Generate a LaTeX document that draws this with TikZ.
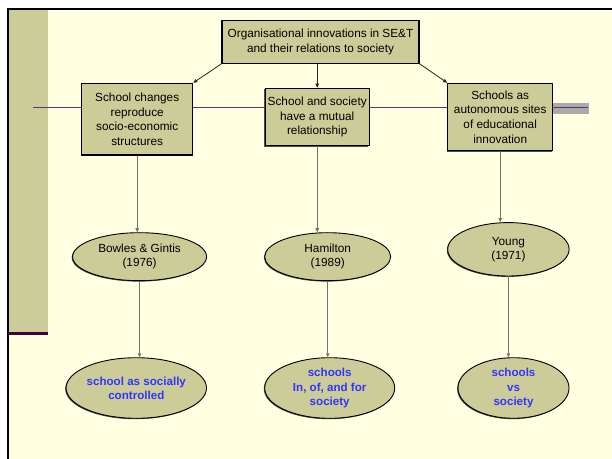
\documentclass[tikz,border=0pt]{standalone}
\usepackage{fontspec}
\setmainfont{Liberation Sans}
\usetikzlibrary{
    arrows.meta,
    shapes.geometric,
    shadows
}
\definecolor{paper}{RGB}{255,255,225}
\definecolor{boxolive}{RGB}{204,204,153}
\definecolor{plum}{RGB}{102,51,102}
\definecolor{darkplum}{RGB}{64,0,64}
\definecolor{bargray}{RGB}{170,170,170}
\definecolor{themeblue}{RGB}{51,51,255}
\tikzset{
    edge shadow/.style={
        drop shadow={shadow xshift=-0.9bp, shadow yshift=-0.9bp, fill=black!70, opacity=1}
    },
    conceptbox/.style={
        rectangle,
        draw=black,
        line width=1.1bp,
        fill=boxolive,
        text=black,
        align=center,
        inner sep=0pt,
        edge shadow,
        font=\fontsize{11.8bp}{14.6bp}\selectfont
    },
    authorell/.style={
        ellipse,
        draw=black,
        line width=0.9bp,
        fill=boxolive,
        text=black,
        align=center,
        inner sep=0pt,
        edge shadow,
        font=\fontsize{11.8bp}{14.2bp}\selectfont
    },
    themeell/.style={
        authorell,
        text=themeblue,
        font=\fontsize{11.6bp}{14.2bp}\selectfont\bfseries
    },
    link/.style={
        -{Triangle[length=4bp,width=3.5bp]},
        draw=black!55,
        line width=0.8bp
    },
    branch/.style={
        link,
        draw=black!85
    }
}

\begin{document}
\begin{tikzpicture}[x=1bp, y=-1bp]
\useasboundingbox (0,0) rectangle (612,459);
\fill[white] (0,0) rectangle (612,459);

% Slide background and frame
\fill[paper] (8,9) rectangle (612,459);
\fill[boxolive] (8,9) rectangle (48.3,332);
\fill[darkplum] (8,332) rectangle (48.3,335.3);
\draw[black, line width=2bp] (8.3,459) -- (8.3,9) -- (612,9);

% Horizontal rule
\fill[bargray] (553,103) rectangle (589,114);
\draw[plum, line width=1.5bp] (33,107.7) -- (588,107.7);

% Boxes
\node[conceptbox, minimum width=197bp, minimum height=42.5bp] (top) at (320.5,42) {Organisational innovations in SE\&T\\and their relations to society};
\node[conceptbox, minimum width=111bp, minimum height=71.7bp] (lbox) at (137.2,119.2) {School changes\\reproduce\\socio-economic\\structures};
\node[conceptbox, minimum width=104.3bp, minimum height=57.4bp] (mbox) at (317.2,117) {School and society\\have a mutual\\relationship};
\node[conceptbox, minimum width=105bp, minimum height=67.4bp] (rbox) at (500.2,117) {Schools as\\autonomous sites\\of educational\\innovation};

% Authors
\node[authorell, minimum width=134bp, minimum height=48bp] (bowles) at (139.6,256.7) {Bowles \& Gintis\\(1976)};
\node[authorell, minimum width=126bp, minimum height=48bp] (hamilton) at (327.7,256.7) {Hamilton\\(1989)};
\node[authorell, minimum width=121.4bp, minimum height=53.4bp] (young) at (508.4,249.3) {Young\\(1971)};

% Themes
\node[themeell, minimum width=110bp, minimum height=60.6bp] (ctrl) at (136.3,388) {school as socially\\controlled};
\node[themeell, minimum width=130bp, minimum height=60.6bp] (inof) at (329.7,388) {schools\\In, of, and for\\society};
\node[themeell, minimum width=111bp, minimum height=60.6bp] (vs) at (513.5,388) {schools\\vs\\society};

% Connectors
\draw[branch] (top.south west) -- (lbox.north east);
\draw[branch] (top.south -| mbox.north) -- (mbox.north);
\draw[branch] (top.south east) -- (rbox.north west);

\draw[link] (lbox) -- (lbox |- bowles.north);
\draw[link] (mbox) -- (mbox |- hamilton.north);
\draw[link] (rbox) -- (rbox |- young.north);

\draw[link] (bowles) -- (bowles |- ctrl.north);
\draw[link] (hamilton) -- (hamilton |- inof.north);
\draw[link] (young) -- (young |- vs.north);

\end{tikzpicture}
\end{document}
